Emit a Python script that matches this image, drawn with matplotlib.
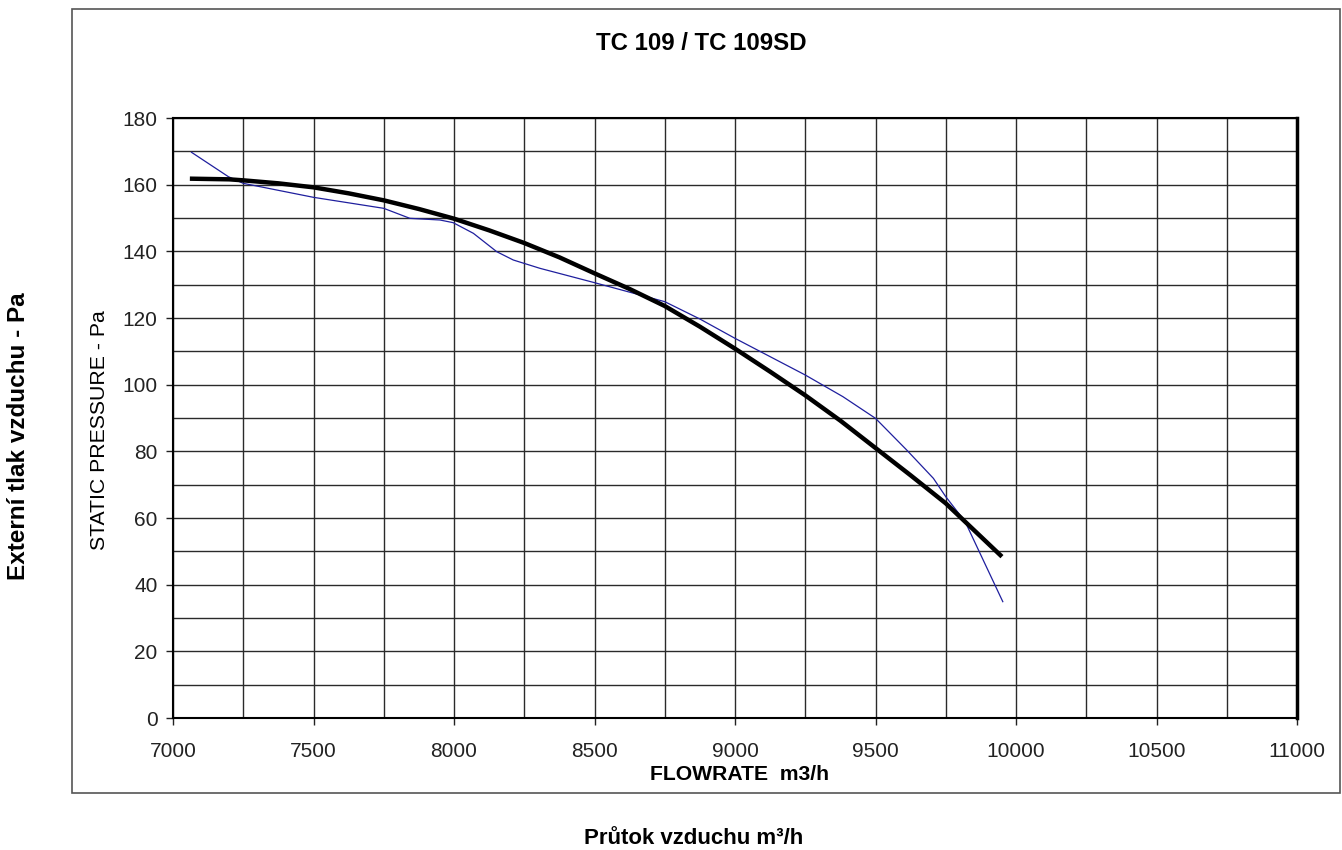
import matplotlib.pyplot as plt
from matplotlib.patches import Rectangle
from matplotlib.ticker import MultipleLocator

plt.rcParams["font.family"] = ["Liberation Sans", "DejaVu Sans"]

# krivka ventilatoru (silna cerna)
fan_x = [7060, 7200, 7250, 7375, 7500, 7625, 7750, 7875, 8000, 8125, 8250, 8375, 8500, 8625,
         8750, 8875, 9000, 9125, 9250, 9375, 9500, 9625, 9750, 9875, 9950]
fan_y = [161.8, 161.6, 161.3, 160.4, 159.2, 157.4, 155.3, 152.7, 149.8, 146.3, 142.5, 138.2, 133.4, 128.7,
         123.6, 117.4, 110.8, 103.9, 96.8, 89.2, 81.0, 72.8, 64.4, 54.4, 48.4]

# namerena krivka (tenka modra)
meas_x = [7066, 7197, 7250, 7500, 7750, 7843, 7950, 7997, 8069, 8152, 8211, 8306, 8500,
          8750, 8875, 9000, 9250, 9384, 9500, 9611, 9706, 9750, 9819, 9872, 9953]
meas_y = [169.7, 162.4, 160.4, 156.2, 152.9, 149.9, 149.4, 148.6, 145.4, 139.9, 137.4, 134.9, 130.6,
          124.9, 119.7, 113.9, 102.9, 96.4, 89.9, 80.4, 71.9, 66.4, 58.9, 49.4, 34.9]

fig = plt.figure(figsize=(13.42, 8.5), dpi=100)
W, H = 1342, 850

# ramecek grafu
fig.patches.append(Rectangle((72 / W, 1 - 793 / H), (1340 - 72) / W, (793 - 9) / H,
                             transform=fig.transFigure, fill=False, edgecolor="#555555", lw=1.2))

ax = fig.add_axes([173 / W, 1 - 718 / H, (1297 - 173) / W, (718 - 118) / H])

ax.plot(meas_x, meas_y, color="#1f1f9e", lw=0.9, zorder=3)
ax.plot(fan_x, fan_y, color="black", lw=3.2, solid_capstyle="butt", solid_joinstyle="round", zorder=4)

ax.set_xlim(7000, 11000)
ax.set_ylim(0, 180)
ax.xaxis.set_major_locator(MultipleLocator(500))
ax.xaxis.set_minor_locator(MultipleLocator(250))
ax.yaxis.set_major_locator(MultipleLocator(20))
ax.yaxis.set_minor_locator(MultipleLocator(10))
ax.grid(which="both", color="#2a2a2a", lw=1.0)
ax.set_axisbelow(True)
ax.tick_params(which="major", direction="out", length=5, width=1, labelsize=15, colors="#222222")
ax.tick_params(axis="x", pad=12.5)
ax.tick_params(axis="y", pad=6)
ax.tick_params(which="minor", length=0)

for s in ax.spines.values():
    s.set_color("black")
    s.set_linewidth(1.5)
ax.spines["right"].set_linewidth(2.5)

fig.text(701 / W, 1 - 43 / H, "TC 109 / TC 109SD", fontsize=17.3, fontweight="bold",
         ha="center", va="center")
fig.text(739 / W, 1 - 775 / H, "FLOWRATE  m3/h", fontsize=15.2, fontweight="bold",
         ha="center", va="center")
fig.text(99.5 / W, 1 - 430 / H, "STATIC PRESSURE - Pa", rotation=90, fontsize=15.3,
         ha="center", va="center")

fig.text(18.5 / W, 1 - 436 / H, "Externí tlak vzduchu - Pa", rotation=90, fontsize=17.5,
         fontweight="bold", ha="center", va="center")
fig.text(694 / W, 1 - 838 / H, "Průtok vzduchu m³/h", fontsize=16, fontweight="bold",
         ha="center", va="center")

fig.savefig("out.png", dpi=100)
